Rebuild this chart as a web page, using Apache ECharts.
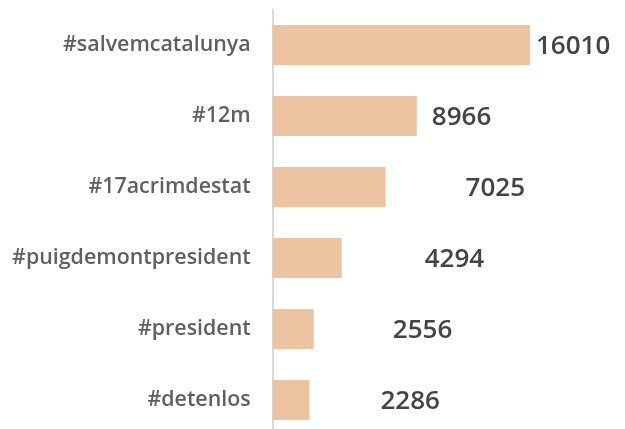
<!DOCTYPE html>
<html>
<head>
<meta charset="utf-8">
<script src="https://cdn.jsdelivr.net/npm/echarts@6/dist/echarts.min.js"></script>
<style>
  html, body { margin: 0; padding: 0; background: #fff; }
  #chart { width: 625px; height: 429px; }
</style>
</head>
<body>
<div id="chart"></div>
<script>
var hashtags = ['#salvemcatalunya', '#12m', '#17acrimdestat', '#puigdemontpresident', '#president', '#detenlos'];
var counts = [16010, 8966, 7025, 4294, 2556, 2286];
// the value labels sit at uneven distances from the bar ends in the original
var labelGap = [6, 15, 80, 83, 79, 71];

var box = echarts.init(document.getElementById('chart'));

option = {
    animation: false,
    grid: {
        left: 272.7,
        right: 95,
        top: 9.5,
        height: 426,
        outerBoundsMode: 'none'
    },
    xAxis: {
        type: 'value',
        min: 0,
        max: 16010,
        show: false
    },
    yAxis: {
        type: 'category',
        inverse: true,
        data: hashtags,
        axisLine: {
            lineStyle: { color: '#d9d9d9', width: 2 }
        },
        axisTick: { show: false },
        axisLabel: {
            margin: 22,
            color: '#5f5f5f',
            fontFamily: 'Open Sans',
            fontSize: 21.4,
            fontWeight: 600
        }
    },
    series: [
        {
            type: 'bar',
            barWidth: 40,
            color: '#ECC4A1',
            data: counts.map(function (v, i) {
                return {
                    value: v,
                    label: { offset: [labelGap[i], 1.5] }
                };
            }),
            label: {
                show: true,
                position: 'right',
                distance: 0,
                color: '#444',
                fontFamily: 'Open Sans',
                fontSize: 26,
                fontWeight: 600
            }
        }
    ]
};
box.setOption(option);
</script>
</body>
</html>
